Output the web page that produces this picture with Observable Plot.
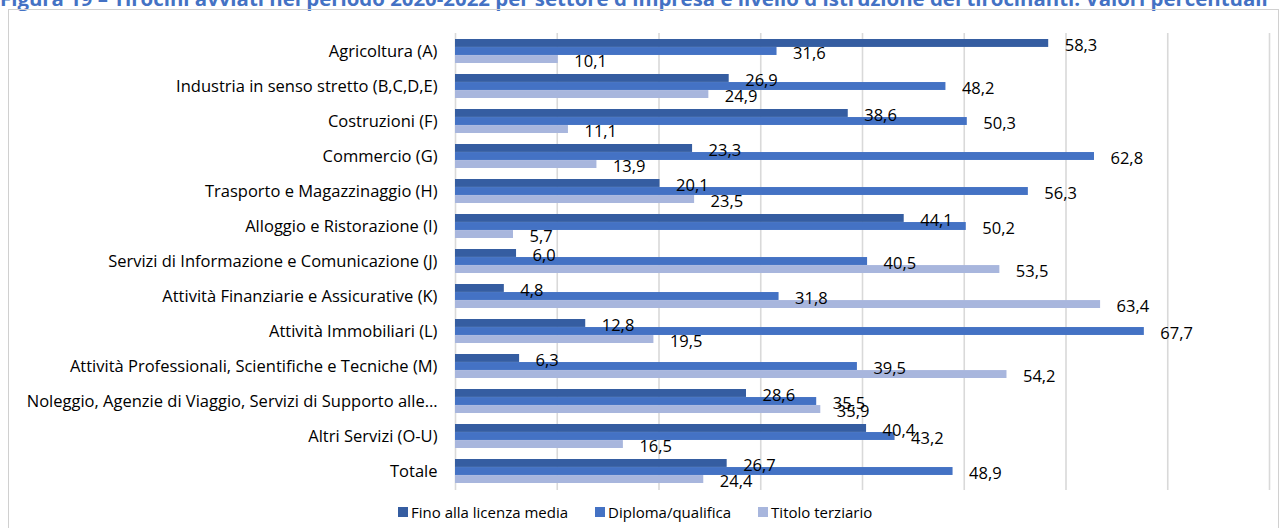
<!DOCTYPE html>
<html>
<head>
<meta charset="utf-8">
<script src="https://cdn.jsdelivr.net/npm/d3@7"></script>
<script src="https://cdn.jsdelivr.net/npm/@observablehq/plot@0.6"></script>
<style>
  html, body { margin: 0; padding: 0; background: #fff; width: 1282px; height: 528px; overflow: hidden; position: relative; font-family: "Open Sans", Lato, sans-serif; }
  #title { position: absolute; left: 0; top: -12px; line-height: 20px; white-space: nowrap; color: #4472C4; font-weight: 700; font-size: 20.4px; }
  #frame { position: absolute; left: 8px; top: 9px; width: 1271px; height: 530px; border: 1px solid #d0d0d0; box-sizing: border-box; }
  #chart { position: absolute; left: 0; top: 0; }
  #legend { position: absolute; left: 398px; top: 502px; font-size: 15px; color: #000; white-space: nowrap; display: flex; align-items: center; }
  #legend .item { display: flex; align-items: center; margin-right: 27px; }
  #legend .sw { width: 10px; height: 10px; margin-right: 3px; }
</style>
</head>
<body>
<div id="title">Figura 19 – Tirocini avviati nel periodo 2020-2022 per settore d'impresa e livello d'istruzione dei tirocinanti. Valori percentuali</div>
<div id="frame"></div>
<div id="chart"></div>
<div id="legend"></div>
<script>
const categories = [
  "Agricoltura (A)",
  "Industria in senso stretto (B,C,D,E)",
  "Costruzioni (F)",
  "Commercio (G)",
  "Trasporto e Magazzinaggio (H)",
  "Alloggio e Ristorazione (I)",
  "Servizi di Informazione e Comunicazione (J)",
  "Attività Finanziarie e Assicurative (K)",
  "Attività Immobiliari (L)",
  "Attività Professionali, Scientifiche e Tecniche (M)",
  "Noleggio, Agenzie di Viaggio, Servizi di Supporto alle…",
  "Altri Servizi (O-U)",
  "Totale"
];
const seriesNames = ["Fino alla licenza media", "Diploma/qualifica", "Titolo terziario"];
const licenzaMedia = [58.3, 26.9, 38.6, 23.3, 20.1, 44.1, 6.0, 4.8, 12.8, 6.3, 28.6, 40.4, 26.7];
const diploma      = [31.6, 48.2, 50.3, 62.8, 56.3, 50.2, 40.5, 31.8, 67.7, 39.5, 35.5, 43.2, 48.9];
const terziario    = [10.1, 24.9, 11.1, 13.9, 23.5, 5.7, 53.5, 63.4, 19.5, 54.2, 35.9, 16.5, 24.4];
const gridTicks = [0, 10, 20, 30, 40, 50, 60, 70, 80];
const colors = ["#355DA1", "#4472C4", "#A8B6DD"];

const seriesValues = [licenzaMedia, diploma, terziario];
const rows = seriesValues.map((vals, s) => categories.map((c, i) => ({category: c, series: seriesNames[s], value: vals[i]})));
const fmt = v => v.toFixed(1).replace(".", ",");

const bandH = 24.1;
const third = bandH / 3;
const marks = [
  Plot.gridX(gridTicks, {stroke: "#d9d9d9", strokeOpacity: 1, strokeWidth: 1.6})
];
rows.forEach((data, s) => {
  marks.push(Plot.barX(data, {
    x: "value", y: "category", fill: colors[s],
    insetTop: s * third, insetBottom: (2 - s) * third
  }));
});
rows.forEach((data, s) => {
  marks.push(Plot.text(data, {
    x: "value", y: "category", text: d => fmt(d.value),
    textAnchor: "start", dx: 16, dy: (s - 1) * third + 2,
    fontSize: 16.5, fill: "#000"
  }));
});

const chart = Plot.plot({
  width: 1282,
  height: 500,
  marginLeft: 455,
  marginRight: 13,
  marginTop: 33,
  marginBottom: 10,
  style: {fontFamily: "'Open Sans', Lato, sans-serif", fontSize: "16.5px", background: "transparent", color: "#000"},
  x: {domain: [0, 80], axis: null},
  y: {domain: categories, paddingInner: 0.314, paddingOuter: 0.157, tickSize: 0, tickPadding: 18, label: null},
  marks
});
document.getElementById("chart").appendChild(chart);

const legend = document.getElementById("legend");
seriesNames.forEach((n, i) => {
  const it = document.createElement("div");
  it.className = "item";
  const sw = document.createElement("div");
  sw.className = "sw";
  sw.style.background = colors[i];
  const t = document.createElement("span");
  t.textContent = n;
  it.appendChild(sw); it.appendChild(t);
  legend.appendChild(it);
});
</script>
</body>
</html>
